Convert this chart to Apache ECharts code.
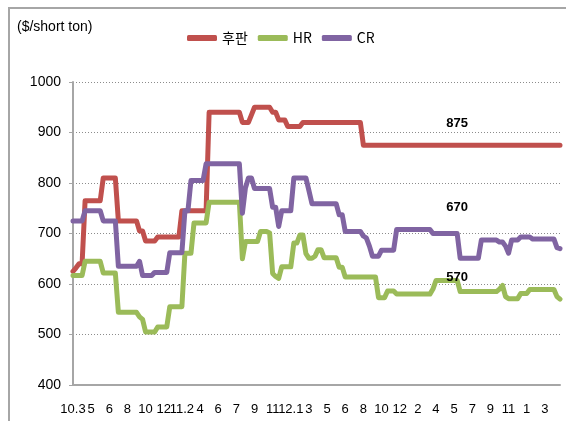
<!DOCTYPE html>
<html>
<head>
<meta charset="utf-8">
<script src="https://cdn.jsdelivr.net/npm/echarts@6/dist/echarts.min.js"></script>
<style>
  html, body { margin: 0; padding: 0; background: #fff; }
  #chart { width: 566px; height: 421px; }
</style>
</head>
<body>
<div id="chart"></div>
<script>
// Tick labels, one every 6 points (year.month style as in the source)
const tickLabels = ['10.3', '5', '6', '8', '10', '12', '11.2', '4', '6', '7', '9', '11',
    '12.1', '3', '5', '6', '8', '10', '12', '2', '4', '5', '7', '9', '11', '1', '3'];
const labelStep = 6;

// Helper: expand [value, count] runs into a flat list
function runs(list) {
    const out = [];
    list.forEach(([v, n]) => { for (let k = 0; k < n; k++) out.push(v); });
    return out;
}

// 후판 (plate)
const plate = runs([
    [625, 1], [632, 1], [640, 2], [765, 6], [810, 5], [725, 7], [705, 2], [685, 4],
    [693, 8], [745, 9], [940, 11], [920, 3], [935, 1], [950, 6], [940, 2], [925, 3],
    [912, 5], [920, 20], [875, 66]
]);

// HR
const hr = runs([
    [617, 4], [645, 6], [622, 5], [544, 7], [535, 1], [530, 1], [505, 4], [515, 4],
    [555, 5], [661, 3], [721, 5], [762, 11], [650, 1], [684, 5], [704, 3], [701, 1],
    [621, 1], [615, 1], [611, 1], [634, 4], [681, 2], [697, 2], [660, 1], [651, 2],
    [655, 1], [668, 2], [652, 5], [633, 2], [614, 11], [573, 3], [586, 3], [580, 12],
    [590, 1], [607, 8], [585, 13], [590, 1], [597, 1], [575, 1], [571, 4], [581, 3],
    [589, 9], [575, 1], [570, 1]
]);

// CR
const cr = runs([
    [725, 4], [745, 6], [725, 5], [635, 7], [645, 1], [617, 4], [623, 5], [662, 5],
    [745, 2], [805, 5], [838, 12], [740, 1], [790, 1], [810, 2], [789, 6], [752, 2],
    [714, 1], [745, 4], [810, 5], [785, 1], [759, 9], [737, 2], [704, 6], [695, 1],
    [691, 1], [675, 1], [655, 3], [667, 5], [708, 12], [700, 9], [651, 7], [687, 6],
    [683, 2], [675, 1], [661, 1], [687, 3], [693, 4], [689, 8], [672, 1], [670, 1]
]);

const seriesNames = ['후판', 'HR', 'CR'];
const seriesColors = ['#C0504D', '#9BBB59', '#8064A2'];
const seriesData = [plate, hr, cr];
const endLabelAt = 127;            // category index where end-value labels sit
const endLabelOffsets = [-22, -22, -41];

const categories = plate.map((_, i) => String(i));

const chart = echarts.init(document.getElementById('chart'), null, { renderer: 'canvas' });

const textColor = '#000';
const numFont = 'Liberation Sans, Arial, sans-serif';
const narrowFont = '"Liberation Sans Narrow", "Noto Sans CJK KR", sans-serif';

chart.setOption({
    animation: false,
    backgroundColor: '#fff',
    textStyle: { fontFamily: numFont },
    graphic: [{
        type: 'rect',
        shape: { x: 9, y: 8, width: 640, height: 520 },
        style: { fill: 'none', stroke: '#a6a6a6', lineWidth: 2 },
        silent: true
    }, {
        type: 'text',
        left: 17,
        top: 20,
        style: { text: '($/short ton)', font: '14px "Liberation Sans", Arial, sans-serif', fill: textColor }
    }],
    legend: {
        left: 182,
        top: 26,
        icon: 'roundRect',
        itemWidth: 30,
        itemHeight: 6,
        itemGap: 10,
        textStyle: { color: textColor, fontSize: 14, fontFamily: narrowFont },
        data: seriesNames
    },
    grid: { left: 73, right: 6, top: 82, bottom: 36, containLabel: false },
    xAxis: {
        type: 'category',
        data: categories,
        boundaryGap: false,
        axisLine: { lineStyle: { color: '#a6a6a6', width: 2 } },
        axisTick: { show: false },
        axisLabel: {
            interval: labelStep - 1,
            margin: 18,
            color: textColor,
            fontSize: 13,
            formatter: (v, idx) => tickLabels[idx / labelStep] || ''
        },
        splitLine: { show: false }
    },
    yAxis: {
        type: 'value',
        min: 400,
        max: 1000,
        interval: 100,
        axisLine: { show: true, lineStyle: { color: '#a6a6a6', width: 2 } },
        axisTick: { show: true, length: 4, lineStyle: { color: '#a6a6a6', width: 1 } },
        axisLabel: { color: textColor, fontSize: 14, margin: 12, formatter: v => String(v) },
        splitLine: { lineStyle: { color: '#8c8c8c', type: [1, 2], width: 1 } }
    },
    series: seriesData.map((data, k) => ({
        name: seriesNames[k],
        type: 'line',
        data: data,
        symbol: 'none',
        color: seriesColors[k],
        lineStyle: { width: 5, cap: 'round', join: 'round' },
        markPoint: {
            symbol: 'circle',
            symbolSize: 0,
            data: [{ coord: [endLabelAt, data[data.length - 1]], value: data[data.length - 1] }],
            label: {
                show: true,
                formatter: '{c}',
                offset: [0, endLabelOffsets[k]],
                color: textColor,
                fontWeight: 'bold',
                fontSize: 13
            }
        }
    }))
});
</script>
</body>
</html>
